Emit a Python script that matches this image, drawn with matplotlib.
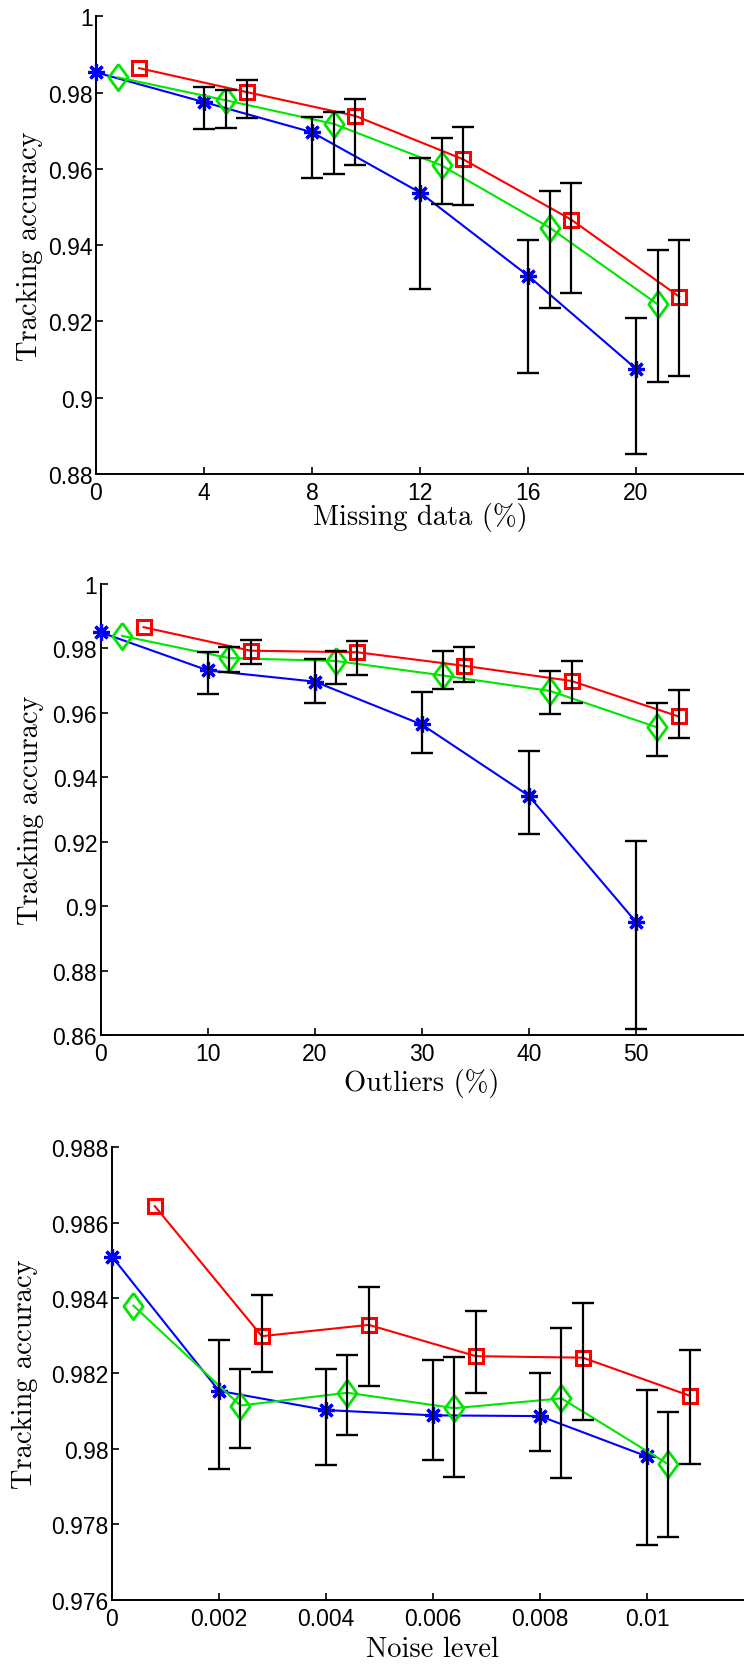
import numpy as np
import matplotlib
matplotlib.use("Agg")
import matplotlib.pyplot as plt

plt.rcParams["font.family"] = ["Liberation Sans", "DejaVu Sans"]
plt.rcParams["axes.unicode_minus"] = False

# --- data ---
methods = ["blue", "green", "red"]
colors = ["#0000ff", "#00e600", "#ff0000"]

# panel 1: missing data
missing = [0, 4, 8, 12, 16, 20]
missing_offset = [0, 0.8, 1.6]
missing_mean = [
    [0.9853, 0.9775, 0.9696, 0.9538, 0.9320, 0.9076],
    [0.9840, 0.9780, 0.9718, 0.9609, 0.9446, 0.9245],
    [0.9864, 0.9801, 0.9739, 0.9625, 0.9467, 0.9265],
]
missing_lo = [
    [np.nan, 0.9704, 0.9576, 0.9286, 0.9065, 0.8852],
    [np.nan, 0.9708, 0.9586, 0.9508, 0.9236, 0.9042],
    [np.nan, 0.9734, 0.9610, 0.9505, 0.9275, 0.9056],
]
missing_hi = [
    [np.nan, 0.9815, 0.9736, 0.9629, 0.9413, 0.9210],
    [np.nan, 0.9808, 0.9749, 0.9680, 0.9542, 0.9386],
    [np.nan, 0.9833, 0.9782, 0.9709, 0.9562, 0.9414],
]

# panel 2: outliers
outliers = [0, 10, 20, 30, 40, 50]
outliers_offset = [0, 2, 4]
outliers_mean = [
    [0.9850, 0.9732, 0.9697, 0.9564, 0.9343, 0.8952],
    [0.9839, 0.9770, 0.9761, 0.9716, 0.9668, 0.9555],
    [0.9866, 0.9793, 0.9788, 0.9746, 0.9699, 0.9589],
]
outliers_lo = [
    [np.nan, 0.9658, 0.9630, 0.9475, 0.9223, 0.8619],
    [np.nan, 0.9726, 0.9689, 0.9673, 0.9598, 0.9466],
    [np.nan, 0.9753, 0.9716, 0.9695, 0.9630, 0.9523],
]
outliers_hi = [
    [np.nan, 0.9789, 0.9766, 0.9664, 0.9483, 0.9201],
    [np.nan, 0.9804, 0.9791, 0.9791, 0.9729, 0.9632],
    [np.nan, 0.9825, 0.9823, 0.9804, 0.9761, 0.9671],
]

# panel 3: noise level
noise = [0, 0.002, 0.004, 0.006, 0.008, 0.01]
noise_offset = [0, 0.0004, 0.0008]
noise_mean = [
    [0.98510, 0.98154, 0.98103, 0.98089, 0.98087, 0.97980],
    [0.98380, 0.98115, 0.98149, 0.98108, 0.98134, 0.97959],
    [0.98644, 0.98299, 0.98329, 0.98246, 0.98242, 0.98141],
]
noise_lo = [
    [np.nan, 0.97947, 0.97957, 0.97970, 0.97994, 0.97746],
    [np.nan, 0.98002, 0.98037, 0.97925, 0.97922, 0.97765],
    [np.nan, 0.98204, 0.98166, 0.98149, 0.98076, 0.97961],
]
noise_hi = [
    [np.nan, 0.98288, 0.98211, 0.98236, 0.98200, 0.98155],
    [np.nan, 0.98213, 0.98249, 0.98244, 0.98320, 0.98099],
    [np.nan, 0.98407, 0.98430, 0.98366, 0.98386, 0.98262],
]

diamond = [(0, 1), (0.73, 0), (0, -1), (-0.73, 0), (0, 1)]
marker_style = [
    dict(marker=(8, 2, 0), markersize=12, markeredgewidth=2.3),
    dict(marker=diamond, markersize=19, markeredgewidth=2.0),
    dict(marker="s", markersize=9.5, markeredgewidth=2.2),
]

W, H = 744, 1665
fig = plt.figure(figsize=(W / 100, H / 100), dpi=100)

panels = [
    dict(x=missing, off=missing_offset, mean=missing_mean, lo=missing_lo, hi=missing_hi,
         xlim=(0, 24), xticks=[0, 4, 8, 12, 16, 20], xtl=["0", "4", "8", "12", "16", "20"],
         ylim=(0.88, 1.0), yticks=[0.88, 0.9, 0.92, 0.94, 0.96, 0.98, 1.0],
         ytl=["0.88", "0.9", "0.92", "0.94", "0.96", "0.98", "1"],
         box=(96, 17.3, 744, 475), xlabel="Missing data (%)", ylx=-0.0818, xly=-0.061),
    dict(x=outliers, off=outliers_offset, mean=outliers_mean, lo=outliers_lo, hi=outliers_hi,
         xlim=(0, 60), xticks=[0, 10, 20, 30, 40, 50], xtl=["0", "10", "20", "30", "40", "50"],
         ylim=(0.86, 1.0), yticks=[0.86, 0.88, 0.9, 0.92, 0.94, 0.96, 0.98, 1.0],
         ytl=["0.86", "0.88", "0.9", "0.92", "0.94", "0.96", "0.98", "1"],
         box=(100.7, 585, 742.7, 1036), xlabel="Outliers (%)", ylx=-0.0883, xly=-0.073),
    dict(x=noise, off=noise_offset, mean=noise_mean, lo=noise_lo, hi=noise_hi,
         xlim=(0, 0.012), xticks=[0, 0.002, 0.004, 0.006, 0.008, 0.01],
         xtl=["0", "0.002", "0.004", "0.006", "0.008", "0.01"],
         ylim=(0.976, 0.988), yticks=[0.976, 0.978, 0.98, 0.982, 0.984, 0.986, 0.988],
         ytl=["0.976", "0.978", "0.98", "0.982", "0.984", "0.986", "0.988"],
         box=(112, 1148.3, 754, 1600.7), xlabel="Noise level", ylx=-0.116, xly=-0.080),
]

for p in panels:
    l, t, r, b = p["box"]
    ax = fig.add_axes([l / W, 1 - b / H, (r - l) / W, (b - t) / H])
    for i in range(3):
        xs = np.array(p["x"]) + p["off"][i]
        m = np.array(p["mean"][i])
        ax.plot(xs, m, color=colors[i], lw=1.5, markerfacecolor="none",
                markeredgecolor=colors[i], zorder=3, clip_on=False, **marker_style[i])
        lo = np.array(p["lo"][i])
        hi = np.array(p["hi"][i])
        ok = ~np.isnan(lo)
        ax.errorbar(xs[ok], m[ok], yerr=[m[ok] - lo[ok], hi[ok] - m[ok]], fmt="none",
                    ecolor="black", elinewidth=1.6, capsize=7.8, capthick=1.7, zorder=4)
    ax.set_xlim(*p["xlim"])
    ax.set_ylim(*p["ylim"])
    ax.set_xticks(p["xticks"])
    ax.set_xticklabels(p["xtl"])
    ax.set_yticks(p["yticks"])
    ax.set_yticklabels(p["ytl"])
    for s in ["top", "right"]:
        ax.spines[s].set_visible(False)
    for s in ["left", "bottom"]:
        ax.spines[s].set_linewidth(1.4)
    ax.tick_params(direction="in", length=5, width=1.2, labelsize=16.5)
    ax.tick_params(axis="x", pad=5)
    ax.tick_params(axis="y", pad=2.5)
    ax.set_ylabel("Tracking accuracy", family="cmr10", fontsize=20.5)
    ax.set_xlabel(p["xlabel"], family="cmr10", fontsize=20.5)
    ax.yaxis.set_label_coords(p["ylx"], 0.5)
    ax.xaxis.set_label_coords(0.5, p["xly"])

fig.savefig("out.png", dpi=100)
